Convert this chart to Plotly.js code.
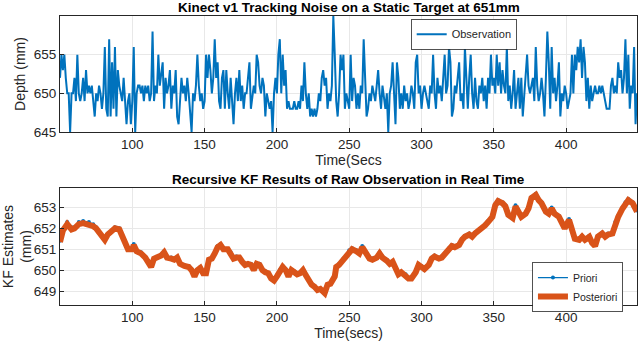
<!DOCTYPE html>
<html>
<head>
<meta charset="utf-8">
<script src="https://cdn.plot.ly/plotly-3.0.1.min.js"></script>
<style>
  html, body { margin: 0; padding: 0; background: #fff; }
  #chart { width: 640px; height: 341px; }
</style>
</head>
<body>
<div id="chart"></div>
<script>
// raw depth readings, one per second starting at t = 50 s
const obsStart = 50;
const observation = [
  652,655,653,655,652,650,650,645,650,650,
  652,649,655,650,649,650,652,649,653,650,
  651,650,651,649,647,650,649,651,650,648,
  650,656,648,647,657,647,654,648,656,647,
  653,651,650,649,652,648,646,649,650,646,
  649,656,645,650,651,651,650,651,649,651,
  650,651,649,650,658,649,651,650,655,651,
  653,654,648,652,650,651,653,648,651,650,
  653,647,646,649,652,650,651,649,652,650,
  648,645,650,649,651,655,651,649,650,648,
  649,655,652,655,653,650,652,657,652,654,
  649,648,652,653,648,653,650,648,652,649,
  646,650,652,649,653,649,651,648,650,650,
  652,654,648,650,651,650,655,654,651,650,
  652,651,647,650,649,648,649,645,650,652,
  650,655,657,650,655,651,653,648,649,648,
  648,648,649,648,648,649,648,651,649,654,
  650,648,650,647,648,647,648,647,648,650,
  649,652,653,651,652,648,650,649,651,660,
  655,649,647,650,655,653,655,648,650,649,
  648,655,649,652,651,648,650,648,651,650,
  657,652,647,648,650,649,651,650,649,651,
  653,650,648,651,649,648,650,645,650,651,
  654,650,646,654,652,648,650,648,651,649,
  650,648,649,651,650,648,654,655,650,651,
  648,650,651,650,649,648,651,650,655,650,
  648,652,650,651,649,652,655,650,651,656,
  654,647,648,651,650,652,654,649,650,648,
  656,652,648,652,655,650,648,652,649,648,
  651,650,652,649,651,648,652,650,655,651,
  652,650,655,651,654,650,653,651,650,656,
  649,651,648,650,653,648,650,652,648,652,
  647,650,652,655,651,650,651,652,649,656,
  651,649,650,652,650,647,652,658,654,648,
  656,650,652,649,651,654,647,650,649,651,
  650,648,649,650,655,650,655,653,656,654,
  657,652,656,654,649,652,648,651,649,650,
  651,650,650,651,650,651,650,649,648,648,
  648,651,652,650,651,650,654,652,653,650,
  652,657,650,655,648,651,650,656,646,650
];
const obsTime = observation.map((_, i) => obsStart + i);

// Kalman filter estimates
const kfTime = [
  50,52,55,58,60,63,66,70,73,75,78,81,83,86,88,91,93,95,97,100,
  101,103,106,109,111,113,115,118,120,122,124,127,129,131,133,136,139,141,143,145,
  147,149,151,153,155,157,159,161,163,166,168,170,172,174,176,178,180,182,184,186,
  188,190,192,194,196,198,200,202,204,206,208,210,212,214,216,218,220,222,224,226,
  228,230,233,235,237,240,241,243,246,248,250,252,255,257,259,262,264,266,269,271,
  273,276,278,280,282,284,286,289,291,293,296,298,300,302,305,307,309,312,314,316,
  319,321,323,326,328,330,333,335,337,339,342,344,346,349,351,353,356,358,360,363,
  365,367,369,372,374,376,379,381,383,386,388,390,392,395,397,399,402,404,406,409,
  411,413,416,418,420,422,425,427,429,432,434,436,439,441,443,446,448,449
];
const posteriori = [
  651.35,651.9,652.2,651.95,652.0,652.2,652.25,652.2,652.1,652.0,651.7,651.45,651.7,651.85,652.0,651.95,651.6,651.2,651.0,651.0,
  651.2,650.9,650.8,650.6,650.4,650.15,650.55,650.6,650.7,650.85,650.6,650.55,650.5,650.6,650.3,650.2,650.15,650.0,649.7,650.0,
  650.1,649.85,649.85,650.5,650.55,650.8,651.1,651.2,651.0,651.0,650.8,650.55,650.6,650.6,650.4,650.25,650.3,650.25,650.0,650.3,
  650.25,650.0,649.9,649.85,649.6,649.5,649.7,650.0,650.15,650.0,649.7,650.0,649.9,649.8,649.85,650.0,649.75,649.5,649.3,649.2,
  649.05,649.1,648.9,649.3,649.35,649.7,650.15,650.25,650.5,650.65,650.9,651.0,650.9,650.8,651.1,650.75,650.55,650.5,650.6,650.8,
  650.6,650.45,650.3,650.4,650.0,649.8,649.9,649.75,649.6,649.6,649.9,650.25,650.15,650.05,650.25,650.55,650.65,650.55,650.6,650.75,
  651.0,651.15,651.1,651.2,651.45,651.6,651.7,651.6,651.75,651.85,652.0,652.15,652.3,652.55,653.1,653.3,653.2,653.05,652.65,652.5,
  653.05,652.8,652.55,652.7,652.95,653.45,653.6,653.35,653.2,652.8,652.7,652.95,652.7,652.55,652.3,652.0,652.4,651.9,651.5,651.45,
  651.6,651.45,651.6,651.3,651.15,651.6,651.75,651.6,651.7,651.75,652.25,652.55,652.95,653.2,653.35,653.2,652.9,652.8
];
const priori = [
  651.4,651.95,652.3,652.05,652.05,652.3,652.35,652.3,652.2,652.05,651.75,651.5,651.75,651.9,652.05,652.0,651.65,651.25,651.0,651.05,
  651.25,650.95,650.85,650.6,650.45,650.2,650.55,650.65,650.75,650.9,650.65,650.6,650.55,650.6,650.35,650.25,650.2,650.05,649.75,650.0,
  650.15,649.9,649.85,650.5,650.6,650.85,651.15,651.25,651.05,651.0,650.85,650.6,650.65,650.6,650.45,650.3,650.3,650.3,650.05,650.3,
  650.3,650.05,649.95,649.85,649.65,649.55,649.7,650.0,650.2,650.05,649.75,650.0,649.95,649.8,649.9,650.0,649.8,649.55,649.35,649.25,
  649.1,649.1,648.95,649.3,649.4,649.7,650.15,650.3,650.55,650.7,650.95,651.05,650.95,650.85,651.15,650.8,650.6,650.55,650.6,650.85,
  650.65,650.5,650.35,650.4,650.05,649.85,649.9,649.8,649.65,649.6,649.9,650.25,650.2,650.0,650.25,650.6,650.7,650.6,650.65,650.8,
  651.05,651.2,651.15,651.25,651.5,651.65,651.75,651.65,651.8,651.9,652.05,652.2,652.35,652.6,653.15,653.35,653.25,653.1,652.7,652.55,
  653.1,652.85,652.6,652.75,653.0,653.5,653.65,653.4,653.25,652.85,652.75,653.0,652.75,652.6,652.35,652.05,652.45,651.95,651.55,651.5,
  651.65,651.5,651.65,651.35,651.2,651.65,651.8,651.65,651.75,651.8,652.3,652.6,653.0,653.25,653.4,653.25,652.95,652.85
];

const xTicks = [100, 150, 200, 250, 300, 350, 400];
const topYTicks = [645, 650, 655];
const botYTicks = [649, 650, 651, 652, 653];

const BLUE = '#0072BD', ORANGE = '#D95319';
const font = 'Liberation Sans, Arial, Helvetica, sans-serif';
const INK = '#262626';

const traces = [
  {
    x: obsTime, y: observation, name: 'Observation',
    type: 'scatter', mode: 'lines',
    line: { color: BLUE, width: 2 },
    xaxis: 'x', yaxis: 'y', legend: 'legend',
  },
  {
    x: kfTime, y: priori, name: 'Priori',
    type: 'scatter', mode: 'lines+markers',
    line: { color: BLUE, width: 1.2 },
    marker: { color: BLUE, size: 4 },
    xaxis: 'x2', yaxis: 'y2', legend: 'legend2',
  },
  {
    x: kfTime, y: posteriori, name: 'Posteriori',
    type: 'scatter', mode: 'lines',
    line: { color: ORANGE, width: 6 },
    xaxis: 'x2', yaxis: 'y2', legend: 'legend2',
  },
];

const axBase = {
  showline: true, mirror: true, linecolor: INK, linewidth: 1,
  showgrid: true, gridcolor: '#e8e8e8', gridwidth: 1,
  ticks: 'inside', ticklen: 4, tickcolor: INK,
  tickfont: { family: font, size: 13.5, color: INK },
  zeroline: false,
};
const axTitleFont = { family: font, size: 14, color: INK };
const legFont = { family: font, size: 11, color: INK };

const layout = {
  width: 640, height: 341,
  paper_bgcolor: '#fff', plot_bgcolor: '#fff',
  margin: { l: 60, r: 3, t: 16, b: 36 },
  font: { family: font, color: INK },
  showlegend: true,
  xaxis: { ...axBase, domain: [0, 1], range: [50, 449], tickvals: xTicks, anchor: 'y',
    title: { text: 'Time(Secs', standoff: 2, font: axTitleFont } },
  yaxis: { ...axBase, domain: [0.5986, 1], range: [645, 660], tickvals: topYTicks, anchor: 'x',
    title: { text: 'Depth (mm)', standoff: 4, font: axTitleFont } },
  xaxis2: { ...axBase, domain: [0, 1], range: [50, 449], tickvals: xTicks, anchor: 'y2',
    title: { text: 'Time(secs)', standoff: 2, font: axTitleFont } },
  yaxis2: { ...axBase, domain: [0, 0.4048], range: [648.33, 653.93], tickvals: botYTicks, anchor: 'x2',
    title: { text: 'KF Estimates<br>(mm)', standoff: 2, font: axTitleFont } },
  legend: {
    x: 0.700, y: 0.99, xanchor: 'center', yanchor: 'top',
    bgcolor: '#fff', bordercolor: INK, borderwidth: 0.8,
    font: legFont, itemwidth: 30, tracegroupgap: 0,
  },
  legend2: {
    x: 0.976, y: 0.148, xanchor: 'right', yanchor: 'top',
    bgcolor: '#fff', bordercolor: INK, borderwidth: 0.8,
    font: { family: font, size: 10.5, color: INK }, itemwidth: 30, tracegroupgap: 0,
  },
  annotations: [
    { text: '<b>Kinect v1 Tracking Noise on a Static Target at 651mm</b>',
      xref: 'paper', yref: 'paper', x: 0.5, y: 1, yanchor: 'bottom', yshift: -1,
      showarrow: false, font: { family: font, size: 13.5, color: '#000' } },
    { text: '<b>Recursive KF Results of Raw Observation in Real Time</b>',
      xref: 'paper', yref: 'paper', x: 0.5, y: 0.4048, yanchor: 'bottom', yshift: -1,
      showarrow: false, font: { family: font, size: 13.5, color: '#000' } },
  ],
};

Plotly.newPlot('chart', traces, layout, { displayModeBar: false, staticPlot: true });
</script>
</body>
</html>
